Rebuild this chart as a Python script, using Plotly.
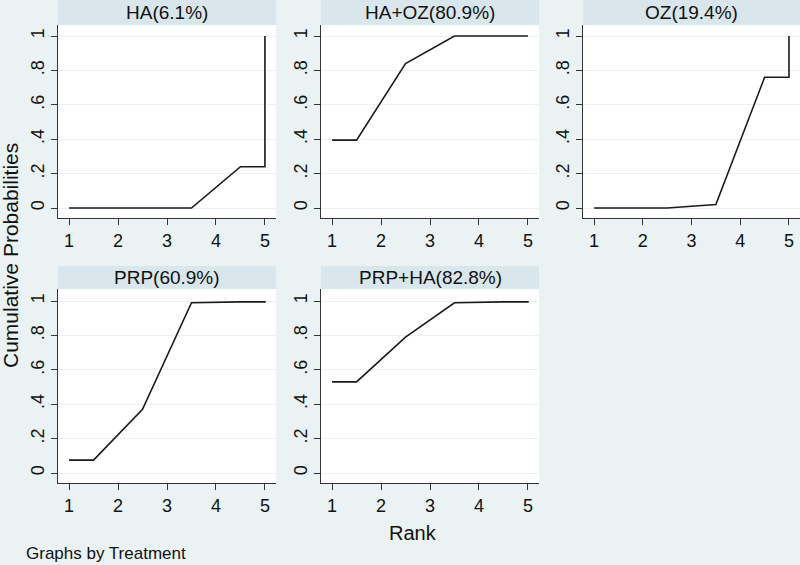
import plotly.graph_objects as go

# ---- data ----
treatments = ["HA", "HA+OZ", "OZ", "PRP", "PRP+HA"]
sucra = [6.1, 80.9, 19.4, 60.9, 82.8]
ranks = [1, 2, 3, 4, 5]
cum_HA = [0.0, 0.0, 0.0, 0.24, 1.0]
cum_HA_OZ = [0.395, 0.84, 1.0, 1.0, 1.0]
cum_OZ = [0.0, 0.0, 0.02, 0.76, 1.0]
cum_PRP = [0.075, 0.37, 0.99, 0.995, 1.0]
cum_PRP_HA = [0.53, 0.79, 0.99, 0.995, 1.0]
cum_probs = [cum_HA, cum_HA_OZ, cum_OZ, cum_PRP, cum_PRP_HA]
y_tick_vals = [0, 0.2, 0.4, 0.6, 0.8, 1]
y_tick_text = ["0", ".2", ".4", ".6", ".8", "1"]

W, H = 800, 565
BG = "#EAF2F3"
STRIP = "#D9E6EB"
FONT = "Liberation Sans, Arial, sans-serif"

# panel geometry in pixels (left, right) / (top, bottom)
cols = [(58, 276), (321, 539), (583, 800)]
rows = [(25, 218), (289, 483)]
strip_h = [25, 23]

def px_x(v):
    return v / W

def px_y(v):
    return 1 - v / H

fig = go.Figure()
shapes = []
annotations = []

for i, (name, s, cp) in enumerate(zip(treatments, sucra, cum_probs)):
    r, c = divmod(i, 3)
    idx = "" if i == 0 else str(i + 1)
    xl, xr = cols[c]
    yt, yb = rows[r]
    # connect at rank midpoints, with end segments as in Stata's sucra plot
    xs = [ranks[0]] + [k + 0.5 for k in ranks[:-1]] + [ranks[-1], ranks[-1]]
    ys = [cp[0]] + cp[:-1] + [cp[-2], cp[-1]]
    fig.add_trace(go.Scatter(x=xs, y=ys, mode="lines",
                             line=dict(color="#1a1a1a", width=1.6),
                             xaxis="x" + idx, yaxis="y" + idx,
                             showlegend=False, hoverinfo="skip"))
    fig.layout["xaxis" + idx] = dict(
        domain=[px_x(xl), px_x(xr)], anchor="y" + idx,
        range=[0.774, 5.226], tickvals=ranks, ticktext=[str(k) for k in ranks],
        ticks="outside", ticklen=6, tickcolor="#333", tickwidth=1,
        showline=True, linecolor="#333", linewidth=1, mirror=False,
        showgrid=False, zeroline=False,
        tickfont=dict(family=FONT, size=18, color="#111"), fixedrange=True)
    fig.layout["yaxis" + idx] = dict(
        domain=[px_y(yb), px_y(yt)], anchor="x" + idx,
        range=[-0.058, 1.064 if r == 0 else 1.07],
        tickvals=y_tick_vals, ticktext=y_tick_text, tickangle=-90,
        ticks="outside", ticklen=6, tickcolor="#333", tickwidth=1,
        showline=True, linecolor="#333", linewidth=1, mirror=False,
        showgrid=True, gridcolor=BG, gridwidth=1.2, zeroline=False,
        tickfont=dict(family=FONT, size=18, color="#111"), fixedrange=True)
    # white plot region
    shapes.append(dict(type="rect", xref="paper", yref="paper", layer="below",
                       x0=px_x(xl), x1=px_x(xr), y0=px_y(yb), y1=px_y(yt),
                       fillcolor="white", line=dict(width=0)))
    # header strip
    shapes.append(dict(type="rect", xref="paper", yref="paper", layer="below",
                       x0=px_x(xl), x1=px_x(xr), y0=px_y(yt), y1=px_y(yt - strip_h[r]),
                       fillcolor=STRIP, line=dict(width=0)))
    annotations.append(dict(text=f"{name}({s}%)", xref="paper", yref="paper",
                            x=px_x((xl + xr) / 2), y=px_y(yt - strip_h[r] / 2),
                            xanchor="center", yanchor="middle", showarrow=False,
                            font=dict(family=FONT, size=19, color="#111")))

annotations.append(dict(text="Cumulative Probabilities", xref="paper", yref="paper",
                        x=px_x(10), y=px_y(256), textangle=-90,
                        xanchor="center", yanchor="middle", showarrow=False,
                        font=dict(family=FONT, size=21, color="#111")))
annotations.append(dict(text="Rank", xref="paper", yref="paper",
                        x=px_x(413), y=px_y(533),
                        xanchor="center", yanchor="middle", showarrow=False,
                        font=dict(family=FONT, size=20, color="#111")))
annotations.append(dict(text="Graphs by Treatment", xref="paper", yref="paper",
                        x=px_x(24), y=px_y(553),
                        xanchor="left", yanchor="middle", showarrow=False,
                        font=dict(family=FONT, size=17, color="#111")))

fig.update_layout(width=W, height=H, margin=dict(l=0, r=0, t=0, b=0),
                  paper_bgcolor=BG, plot_bgcolor="white",
                  shapes=shapes, annotations=annotations, showlegend=False)

fig.write_html("out.html", config={"displayModeBar": False},
               post_script="document.body.style.margin='0';document.body.style.padding='0';document.body.style.overflow='hidden';")
